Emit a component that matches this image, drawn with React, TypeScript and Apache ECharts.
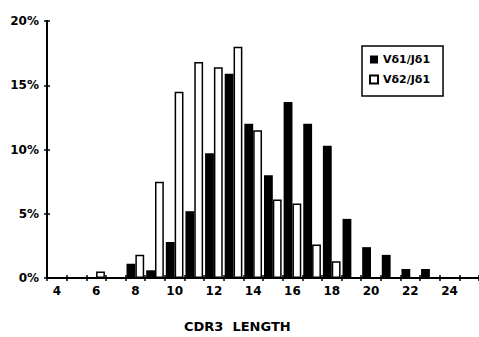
import React, { useEffect, useRef } from "react";
import * as echarts from "echarts";

const categories = ["4","5","6","7","8","9","10","11","12","13","14","15","16","17","18","19","20","21","22","23","24","25"];
const vd1Jd1 = [0, 0, 0, 0, 1.1, 0.6, 2.8, 5.2, 9.7, 15.9, 12.0, 8.0, 13.7, 12.0, 10.3, 4.6, 2.4, 1.8, 0.7, 0.7, 0, 0];
const vd2Jd1 = [0, 0, 0.5, 0, 1.8, 7.5, 14.5, 16.8, 16.4, 18.0, 11.5, 6.1, 5.8, 2.6, 1.3, 0, 0, 0, 0, 0, 0, 0];
const yTicks = [0, 5, 10, 15, 20];
const seriesNames = ["Vδ1/Jδ1", "Vδ2/Jδ1"];
const xTitle = "CDR3  LENGTH";

const FONT = "'DejaVu Sans', 'Liberation Sans', Arial, sans-serif";

export default function App() {
  const ref = useRef<HTMLDivElement>(null);
  useEffect(() => {
    if (!ref.current) return;
    const chart = echarts.init(ref.current, null, { renderer: "svg" });
    const axisLine = { show: true, lineStyle: { color: "#000", width: 1.8 } };
    const gridBox = { left: 47, top: 21, width: 440, height: 257 };
    chart.setOption({
      animation: false,
      backgroundColor: "#fff",
      textStyle: { fontFamily: FONT },
      title: {
        text: xTitle,
        left: 184,
        top: 320,
        padding: 0,
        textStyle: { fontFamily: FONT, fontWeight: "bold", fontSize: 13, color: "#000" },
      },
      legend: {
        orient: "vertical",
        left: 362,
        top: 46,
        padding: [7, 13, 10, 7],
        itemGap: 7,
        itemWidth: 8,
        itemHeight: 8,
        borderColor: "#000",
        borderWidth: 1.5,
        icon: "rect",
        textStyle: { fontFamily: FONT, fontWeight: "bold", fontSize: 11, color: "#000", lineHeight: 13 },
        data: seriesNames,
      },
      grid: gridBox,
      xAxis: [
        {
          type: "category",
          data: categories,
          position: "bottom",
          boundaryGap: true,
          axisLine,
          axisTick: { show: true, interval: 0, length: 3, lineStyle: { color: "#000", width: 1.5 } },
          axisLabel: {
            interval: 1,
            margin: 7,
            fontFamily: FONT,
            fontWeight: "bold",
            fontSize: 12,
            color: "#000",
          },
          splitLine: { show: false },
        },
        {
          type: "category",
          data: categories,
          position: "bottom",
          boundaryGap: true,
          axisLine,
          axisTick: { show: true, inside: true, interval: 0, length: 3, lineStyle: { color: "#000", width: 1.5 } },
          axisLabel: { show: false },
          splitLine: { show: false },
        },
      ],
      yAxis: [
        {
          type: "value",
          min: yTicks[0],
          max: yTicks[yTicks.length - 1],
          interval: 5,
          position: "left",
          axisLine,
          axisTick: { show: true, length: 3, lineStyle: { color: "#000", width: 1.5 } },
          axisLabel: {
            margin: 8,
            formatter: "{value}%",
            fontFamily: FONT,
            fontWeight: "bold",
            fontSize: 12,
            color: "#000",
          },
          splitLine: { show: false },
        },
        {
          type: "value",
          min: yTicks[0],
          max: yTicks[yTicks.length - 1],
          interval: 5,
          position: "left",
          axisLine,
          axisTick: { show: true, inside: true, length: 3, lineStyle: { color: "#000", width: 1.5 } },
          axisLabel: { show: false },
          splitLine: { show: false },
        },
      ],
      series: [
        {
          name: seriesNames[0],
          type: "bar",
          data: vd1Jd1,
          barGap: "0%",
          barCategoryGap: "10%",
          itemStyle: { color: "#000", borderColor: "#000", borderWidth: 0 },
        },
        {
          name: seriesNames[1],
          type: "bar",
          data: vd2Jd1,
          barGap: "0%",
          barCategoryGap: "10%",
          itemStyle: { color: "#fff", borderColor: "#000", borderWidth: 1.5 },
        },
      ],
    });
    return () => chart.dispose();
  }, []);
  return (
    <div
      ref={ref}
      style={{ position: "fixed", left: 0, top: 0, width: 479, height: 337, background: "#fff" }}
    />
  );
}
